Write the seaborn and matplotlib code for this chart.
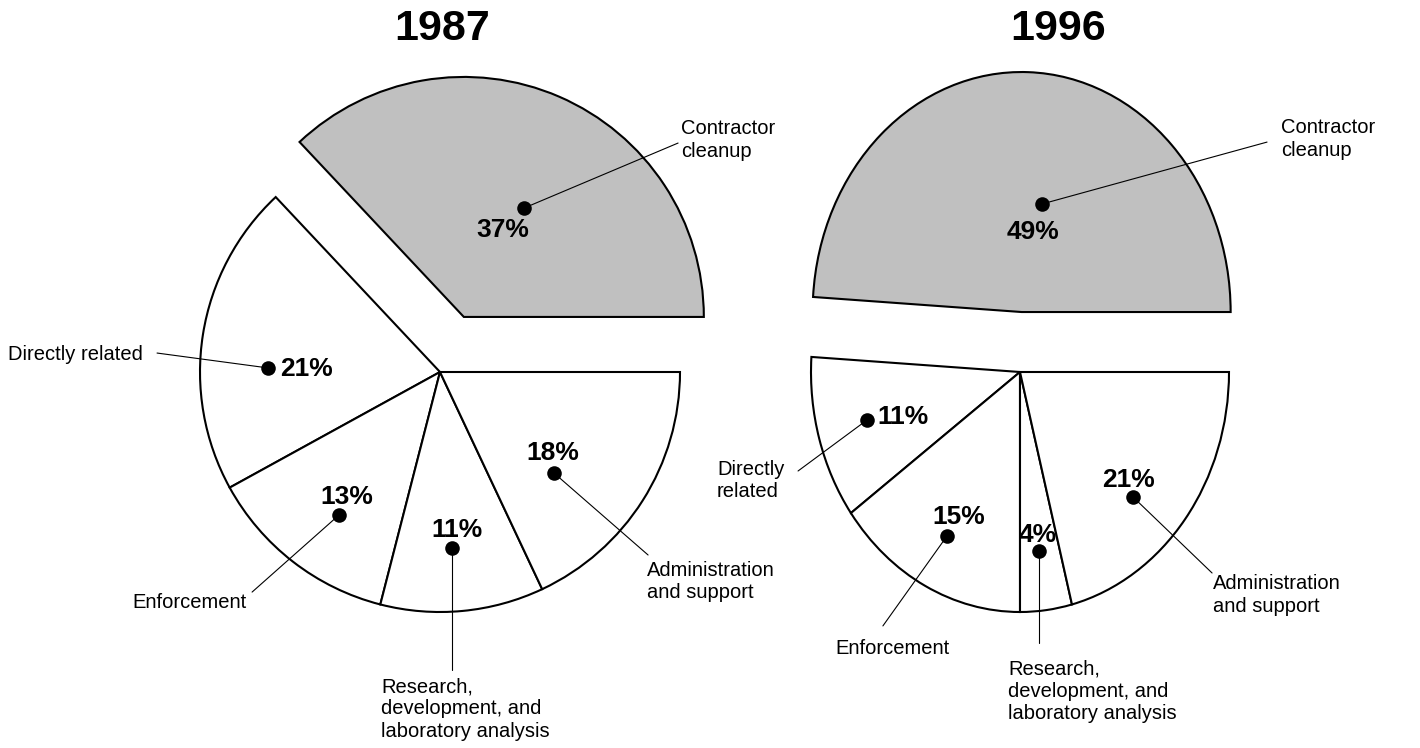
import matplotlib
matplotlib.use("Agg")
import matplotlib.pyplot as plt
import seaborn as sns
import pandas as pd

# ---- data ----
years = ["1987", "1996"]
categories = ["Contractor cleanup", "Directly related", "Enforcement",
              "Research, development, and laboratory analysis",
              "Administration and support"]
shares_1987 = [37, 21, 13, 11, 18]
shares_1996 = [49, 11, 15, 4, 21]
names_1987 = ["Contractor\ncleanup", "Directly related", "Enforcement",
              "Research,\ndevelopment, and\nlaboratory analysis",
              "Administration\nand support"]
names_1996 = ["Contractor\ncleanup", "Directly\nrelated", "Enforcement",
              "Research,\ndevelopment, and\nlaboratory analysis",
              "Administration\nand support"]

# ---- layout (pie units, relative to pie centre) ----
# per slice: dot, percent text (x, y, ha), leader end, name (x, y, ha)
layout_1987 = [
    dict(dot=(0.35, 0.683), pct=(0.263, 0.592, "center"), end=(0.992, 0.954), name=(1.004, 0.967, "left")),
    dict(dot=(-0.717, 0.017), pct=(-0.667, 0.0125, "left"), end=(-1.179, 0.079), name=(-1.2375, 0.071, "right")),
    dict(dot=(-0.421, -0.596), pct=(-0.3875, -0.521, "center"), end=(-0.783, -0.917), name=(-1.042, -0.9625, "center")),
    dict(dot=(0.05, -0.733), pct=(0.071, -0.658, "center"), end=(0.05, -1.242), name=(-0.246, -1.404, "left")),
    dict(dot=(0.475, -0.421), pct=(0.471, -0.3375, "center"), end=(0.867, -0.7625), name=(0.8625, -0.873, "left")),
]
layout_1996 = [
    dict(dot=(0.105, 0.70), pct=(0.062, 0.583, "center"), end=(1.182, 0.958), name=(1.249, 0.971, "left")),
    dict(dot=(-0.732, -0.20), pct=(-0.684, -0.1875, "left"), end=(-1.062, -0.4125), name=(-1.45, -0.452, "left")),
    dict(dot=(-0.349, -0.683), pct=(-0.292, -0.604, "center"), end=(-0.656, -1.058), name=(-0.612, -1.15, "center")),
    dict(dot=(0.091, -0.746), pct=(0.086, -0.679, "center"), end=(0.091, -1.129), name=(-0.057, -1.331, "left")),
    dict(dot=(0.541, -0.521), pct=(0.517, -0.45, "center"), end=(0.919, -0.8375), name=(0.923, -0.929, "left")),
]

W, H = 1420, 748
# pixel geometry: axes left/right, pie centre, x scale, y scale
panels = [
    dict(year=years[0], shares=shares_1987, names=names_1987, lay=layout_1987,
         ax_px=(0, 740), c=(440, 372), sx=240, sy=240, title_x=0.008),
    dict(year=years[1], shares=shares_1996, names=names_1996, lay=layout_1996,
         ax_px=(700, 1420), c=(1020, 372), sx=209, sy=240, title_x=0.182),
]

sns.set_theme(style="white")
plt.rcParams["font.family"] = ["Liberation Sans", "DejaVu Sans"]

fig = plt.figure(figsize=(W / 100, H / 100), dpi=100)
fig.patch.set_facecolor("white")

for p in panels:
    x0, x1 = p["ax_px"]
    ax = fig.add_axes([x0 / W, 0, (x1 - x0) / W, 1])
    colors = ["#c0c0c0"] + ["white"] * (len(p["shares"]) - 1)
    explode = [0.25] + [0] * (len(p["shares"]) - 1)
    ax.pie(p["shares"], startangle=0, counterclock=True, colors=colors,
           explode=explode, radius=1,
           wedgeprops=dict(edgecolor="black", linewidth=1.5))
    cx, cy = p["c"]
    ax.set_aspect("auto")
    ax.set_xlim((x0 - cx) / p["sx"], (x1 - cx) / p["sx"])
    ax.set_ylim((cy - H) / p["sy"], cy / p["sy"])
    ax.axis("off")

    dots = pd.DataFrame({"x": [l["dot"][0] for l in p["lay"]],
                         "y": [l["dot"][1] for l in p["lay"]]})
    for val, name, l in zip(p["shares"], p["names"], p["lay"]):
        ax.plot([l["dot"][0], l["end"][0]], [l["dot"][1], l["end"][1]],
                color="black", lw=0.8, zorder=5)
        ax.text(l["pct"][0], l["pct"][1], f"{val}%", ha=l["pct"][2], va="center",
                fontsize=19, fontweight="bold", color="black", zorder=6)
        ax.text(l["name"][0], l["name"][1], name, ha=l["name"][2],
                va="center", fontsize=14.5, color="black", linespacing=1.22, zorder=6)
    sns.scatterplot(data=dots, x="x", y="y", ax=ax, color="black", s=110,
                    edgecolor="black", linewidth=0, zorder=7, legend=False)
    ax.set_xlabel("")
    ax.set_ylabel("")
    ax.text(p["title_x"], (cy - 29) / p["sy"], p["year"], ha="center", va="center",
            fontsize=31, fontweight="bold", color="black")

fig.savefig("out.png", dpi=100, facecolor="white")
